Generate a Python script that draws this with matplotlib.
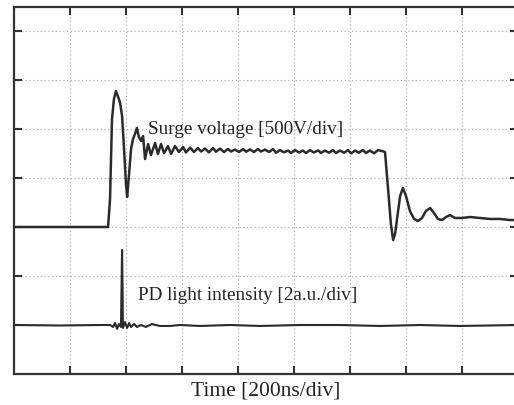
import matplotlib
matplotlib.use("Agg")
import matplotlib.pyplot as plt
import numpy as np

plt.rcParams['font.family'] = ['Liberation Serif', 'DejaVu Serif']

# surge voltage trace, time in ns, voltage in V (relative to its baseline)
surge_t = [0, 336, 343, 350, 357, 364, 371, 379, 386, 393, 400, 404, 411, 418, 425, 432,
           439, 446, 454, 461, 468, 479, 489, 504, 514, 525, 536, 550, 561, 575, 589, 604,
           614, 629, 643, 657, 668, 682, 696, 711, 721, 736, 750, 764, 775, 789, 804, 818,
           829, 843, 857, 871, 882, 896, 911, 925, 936, 950, 964, 979, 989, 1004, 1018, 1032,
           1043, 1057, 1071, 1086, 1096, 1111, 1125, 1139, 1150, 1164, 1179, 1193, 1204, 1218,
           1232, 1246, 1257, 1271, 1286, 1300, 1314, 1325, 1336, 1346, 1354, 1361, 1368, 1379,
           1389, 1400, 1414, 1429, 1443, 1457, 1471, 1486, 1500, 1514, 1529, 1543, 1557, 1575,
           1600, 1629, 1664, 1700, 1736, 1771, 1800]
surge_v = [0, 0, 290, 1100, 1306, 1387, 1336, 1265, 1132, 796, 439, 306, 541, 796, 898, 949,
           1010, 918, 877, 928, 694, 847, 734, 857, 745, 847, 755, 826, 745, 826, 765, 816,
           760, 810, 765, 806, 770, 800, 762, 806, 768, 800, 765, 796, 770, 790, 765, 796,
           768, 792, 765, 796, 770, 790, 765, 796, 758, 785, 762, 780, 755, 785, 760, 780,
           755, 785, 760, 782, 755, 780, 758, 785, 755, 780, 758, 785, 752, 780,
           758, 785, 755, 780, 752, 785, 775, 765, 388, 31, -133, -71, 82, 316,
           398, 316, 163, 82, 61, 92, 163, 194, 143, 82, 71, 102, 122, 92,
           92, 102, 92, 82, 82, 71, 71]

# PD light intensity trace, time in ns, intensity in a.u. (relative to baseline)
pd_t = [0, 164, 307, 343, 354, 361, 368, 375, 382, 384, 386, 388, 389, 396, 404, 411,
        418, 429, 439, 454, 471, 493, 521, 557, 593, 664, 771, 879, 1021, 1164, 1307,
        1450, 1593, 1800]
pd_au = [0, -0.02, 0, 0, -0.08, 0.08, -0.16, 0.04, -0.08, 1.5, 3.06, 1.2, -0.12, 0.12, -0.12, 0.08,
         -0.08, 0.04, -0.08, 0, -0.08, 0.04, -0.04, -0.04, 0, -0.04, 0, -0.04, 0, 0, -0.04,
         0, -0.04, 0]

surge_offset = 3.0   # divisions
pd_offset = 1.0
v_per_div = 500.0
au_per_div = 2.0

fig = plt.figure(figsize=(5.14, 4.05), dpi=100)
ax = fig.add_axes([14 / 514, 31 / 405, 504 / 514, 367 / 405])

ax.plot(surge_t, np.array(surge_v) / v_per_div + surge_offset, color='#2b2b2b', lw=1.8,
        solid_joinstyle='round')
ax.plot(pd_t, np.array(pd_au) / au_per_div + pd_offset, color='#2b2b2b', lw=1.5)

ax.set_xlim(0, 1800)
ax.set_ylim(0, 367 / 49)
ax.set_xticks(np.arange(200, 1800, 200))
ax.set_yticks(np.arange(1, 8, 1))
ax.set_xticklabels([])
ax.set_yticklabels([])
ax.tick_params(direction='in', length=6, width=1.5, color='#333333',
               top=True, right=True, bottom=True, left=True)
ax.grid(True, linestyle=(0, (1, 2)), color='#b0b0b0', lw=0.9)
for s in ax.spines.values():
    s.set_linewidth(1.6)
    s.set_color('#333333')

ax.text(479, 4.98, 'Surge voltage [500V/div]', fontsize=13.8, va='center', ha='left',
        color='#222222')
ax.text(443, 1.61, 'PD light intensity [2a.u./div]', fontsize=13.8, va='center', ha='left',
        color='#222222')
ax.set_xlabel('Time [200ns/div]', fontsize=15.5, color='#222222', labelpad=2)

fig.savefig('out.png', dpi=100)
